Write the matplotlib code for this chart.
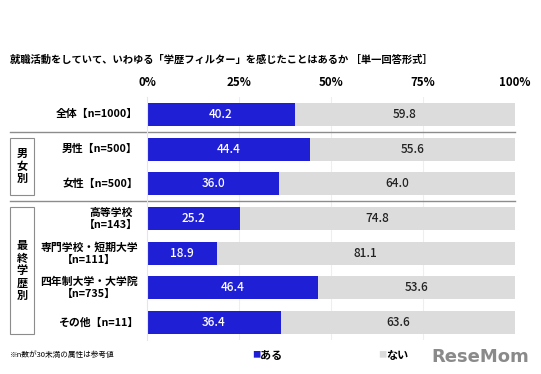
import matplotlib.pyplot as plt
import matplotlib.transforms as mtransforms
from matplotlib.patches import Rectangle

plt.rcParams['font.family'] = ['Noto Sans CJK JP', 'DejaVu Sans']

# データ
categories = ['全体【n=1000】', '男性【n=500】', '女性【n=500】',
              '高等学校\n【n=143】', '専門学校・短期大学\n【n=111】',
              '四年制大学・大学院\n【n=735】', 'その他【n=11】']
aru = [40.2, 44.4, 36.0, 25.2, 18.9, 46.4, 36.4]
nai = [59.8, 55.6, 64.0, 74.8, 81.1, 53.6, 63.6]
xticks = [0, 25, 50, 75, 100]
xticklabels = ['0%', '25%', '50%', '75%', '100%']
groups = [('男女別', 1, 2), ('最終学歴別', 3, 6)]
separators = [0.5, 2.5]

BLUE = '#1f1fd6'
GRAY = '#dcdcdc'

fig = plt.figure(figsize=(5.41, 3.74), dpi=100)
ax = fig.add_axes([0.2717, 0.0909, 0.6802, 0.6497])

ypos = list(range(len(categories)))
bh = 0.66
ax.barh(ypos, aru, height=bh, color=BLUE, zorder=2)
ax.barh(ypos, nai, left=aru, height=bh, color=GRAY, zorder=2)

for y, a, n in zip(ypos, aru, nai):
    ax.text(a / 2, y, f'{a:.1f}', ha='center', va='center', color='white',
            fontsize=8.5, fontweight='medium', zorder=3)
    ax.text(a + n / 2, y, f'{n:.1f}', ha='center', va='center', color='#222222',
            fontsize=8.5, fontweight='medium', zorder=3)

ax.set_xlim(0, 100)
ax.set_ylim(len(categories) - 0.5, -0.5)
ax.xaxis.tick_top()
ax.set_xticks(xticks)
ax.set_xticklabels(xticklabels, fontsize=8.3, fontweight='bold')
ax.tick_params(axis='x', length=0, pad=6)
ax.set_yticks([])
for s in ['top', 'right', 'bottom']:
    ax.spines[s].set_visible(False)
ax.spines['left'].set_color('#e6e6e6')
for t in xticks[1:-1]:
    ax.axvline(t, color='#eeeeee', lw=0.8, zorder=1)

# カテゴリラベル
for y, c in zip(ypos, categories):
    ax.text(-2.5, y, c, ha='right', va='center', multialignment='center',
            fontsize=7.8, fontweight='bold', linespacing=1.25)

# 区切り線
trans = mtransforms.blended_transform_factory(fig.transFigure, ax.transData)
for s in separators:
    ax.plot([10 / 541, 515 / 541], [s, s], color='#8c8c8c', lw=1.0,
            transform=trans, clip_on=False)

# グループ枠
for name, r0, r1 in groups:
    top = r0 - bh / 2
    bottom = r1 + bh / 2
    ax.add_patch(Rectangle((10 / 541, top), 24 / 541, bottom - top,
                           transform=trans, fill=False, ec='#8c8c8c', lw=0.8,
                           clip_on=False))
    ax.text(22 / 541, (top + bottom) / 2, '\n'.join(name), transform=trans,
            ha='center', va='center', fontsize=8, fontweight='bold',
            linespacing=0.95)

fig.text(10 / 541, 1 - 60 / 374,
         '就職活動をしていて、いわゆる「学歴フィルター」を感じたことはあるか ［単一回答形式］',
         ha='left', va='center', fontsize=7.4, fontweight='bold')

fig.text(10 / 541, 1 - 355 / 374, '※n数が30未満の属性は参考値',
         ha='left', va='center', fontsize=5.5)

# 凡例
fig.text(252 / 541, 1 - 355 / 374, '■', color=BLUE, ha='left', va='center', fontsize=6)
fig.text(260 / 541, 1 - 355 / 374, 'ある', ha='left', va='center',
         fontsize=8, fontweight='bold')
fig.text(378 / 541, 1 - 355 / 374, '■', color=GRAY, ha='left', va='center', fontsize=6)
fig.text(386 / 541, 1 - 355 / 374, 'ない', ha='left', va='center',
         fontsize=8, fontweight='bold')

fig.text(529 / 541, 1 - 357 / 374, 'ReseMom', ha='right', va='center',
         fontsize=13, fontweight='bold', color='#8a8a8a', family='DejaVu Sans')

fig.savefig('out.png', dpi=100)
